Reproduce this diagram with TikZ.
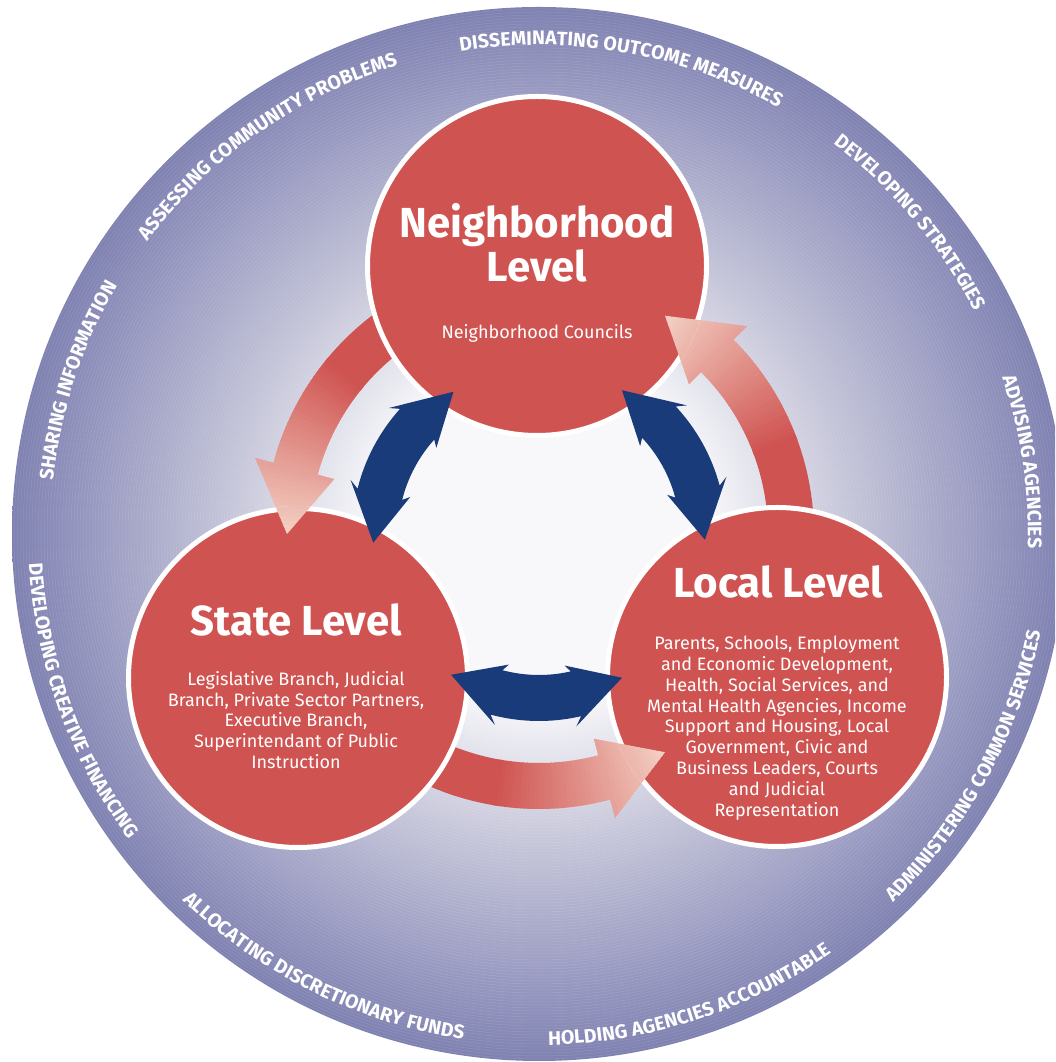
\documentclass[tikz,border=0pt]{standalone}
\usepackage{fontspec}
\setmainfont{Fira Sans}
\usetikzlibrary{decorations.text}

\definecolor{lvred}{HTML}{CF5351}
\definecolor{arrowpeach}{HTML}{F4D3C6}
\definecolor{navy}{HTML}{1A3B7A}
\definecolor{bgcore}{HTML}{F8F8FB}
\definecolor{bglight}{HTML}{E8E8F0}
\definecolor{bgmid}{HTML}{CBCBDD}
\definecolor{bglav}{HTML}{AEAFCC}
\definecolor{bgdeep}{HTML}{9A9BC2}
\definecolor{bgedge}{HTML}{7F81B1}

\pgfdeclareradialshading{ringshade}{\pgfpoint{0bp}{0bp}}{%
  color(0bp)=(bgcore); color(8bp)=(bgcore); color(10bp)=(bglight);
  color(14bp)=(bgmid); color(18bp)=(bglav); color(21bp)=(bgdeep);
  color(25bp)=(bgedge); color(50bp)=(bgedge)}

\newcommand\ringfont{\fontsize{19.5}{19.5}\selectfont\bfseries\color{white}}

% labels on the ring: upper half reads clockwise, lower half anticlockwise
\newcommand\toplabel[2]{%
  \path[shift={(O)}, decorate, decoration={text along path, text align=center,
    text={|\ringfont|#2}}] (#1+40:489) arc[start angle=#1+40, end angle=#1-40, radius=489];}
\newcommand\botlabel[2]{%
  \path[shift={(O)}, decorate, decoration={text along path, text align=center,
    text={|\ringfont|#2}}] (#1-40:511) arc[start angle=#1-40, end angle=#1+40, radius=511];}

% curved red arrow, red at the tail and fading out towards the head
\newcommand\redarrow[1]{%
  \begin{scope}[shift={(O)}, rotate=#1]
    \clip (-25:229) arc[start angle=-25, end angle=45, radius=229] -- (45:212) -- (60:252)
      -- (45:294) -- (45:275) arc[start angle=45, end angle=-25, radius=275] -- cycle;
    \fill[lvred] (0,0) -- (-30:320) arc[start angle=-30, end angle=21, radius=320] -- cycle;
    \foreach \a in {20,...,61} {
      \pgfmathtruncatemacro\mix{min(100,(\a-20)*2.5)}
      \fill[arrowpeach!\mix!lvred] (0,0) -- (\a:320) arc[start angle=\a, end angle=\a+1.2, radius=320] -- cycle;
    }
  \end{scope}}

% blue double arrow between two levels
\newcommand\bluearrow[1]{%
  \fill[navy, shift={(O)}, rotate=#1] (-14:141) arc[start angle=-14, end angle=14, radius=141]
    -- (12:134) -- (31:166) -- (12:196) -- (14:187) arc[start angle=14, end angle=-14, radius=187]
    -- (-12:196) -- (-31:166) -- (-12:134) -- cycle;}

\begin{document}
\begin{tikzpicture}[x=1pt,y=1pt,
  lvcircle/.style={circle, fill=lvred, draw=white, line width=5pt, minimum size=339pt, inner sep=0pt},
  lvtitle/.style={text=white, font=\fontsize{42}{44}\selectfont\bfseries, align=center, inner sep=0pt},
  lvbody/.style={text=white, font=\fontsize{18}{20.8}\selectfont, align=center, inner sep=0pt}]
\useasboundingbox (0,0) rectangle (1055,1062);
\clip (0,0) rectangle (1055,1062);
\coordinate (O) at (539,528);

% backdrop
\shade[shading=ringshade] (O) circle[radius=527];
\foreach \r in {90,93,...,525}
  \draw[white, opacity=.12, line width=.5pt] (O) circle[radius=\r];

\toplabel{80}{DISSEMINATING OUTCOME MEASURES}
\toplabel{40}{DEVELOPING STRATEGIES}
\toplabel{8.5}{ADVISING AGENCIES}
\botlabel{-28.6}{ADMINISTERING COMMON SERVICES}
\botlabel{-72}{HOLDING AGENCIES ACCOUNTABLE}
\botlabel{-116.4}{ALLOCATING DISCRETIONARY FUNDS}
\botlabel{200}{DEVELOPING CREATIVE FINANCING}
\toplabel{161.6}{SHARING INFORMATION}
\toplabel{125}{ASSESSING COMMUNITY PROBLEMS}

\redarrow{0}
\redarrow{120}
\redarrow{240}

\node[lvcircle] (nbh) at (537,796) {};
\node[lvcircle] (state) at (298,384) {};
\node[lvcircle] (local) at (777,385) {};

% heads lie on top of the next circle
\begin{scope}
  \clip (nbh.center) circle[radius=172];
  \redarrow{0}
\end{scope}
\begin{scope}
  \clip (state.center) circle[radius=172];
  \redarrow{120}
\end{scope}
\begin{scope}
  \clip (local.center) circle[radius=172];
  \redarrow{240}
\end{scope}

\bluearrow{29}
\bluearrow{152}
\bluearrow{269}

\node[lvtitle, anchor=north] (ntitle) at ([yshift=63]nbh.center) {Neighborhood\\Level};
\node[lvbody, anchor=base] (nbody) at ([yshift=-73]nbh.center) {Neighborhood Councils};
\node[lvtitle, anchor=base] (stitle) at ([xshift=-2,yshift=42]state.center) {State Level};
\node[lvbody, anchor=north] (sbody) at ([xshift=-2,yshift=7]state.center)
  {Legislative Branch, Judicial\\Branch, Private Sector Partners,\\Executive Branch,\\Superintendant of Public\\Instruction};
\node[lvtitle, anchor=base] (ltitle) at ([xshift=1,yshift=79]local.center) {Local Level};
\node[lvbody, anchor=north] (lbody) at ([yshift=41]local.center)
  {Parents, Schools, Employment\\and Economic Development,\\Health, Social Services, and\\Mental Health Agencies, Income\\Support and Housing, Local\\Government, Civic and\\Business Leaders, Courts\\and Judicial\\Representation};
\end{tikzpicture}
\end{document}
